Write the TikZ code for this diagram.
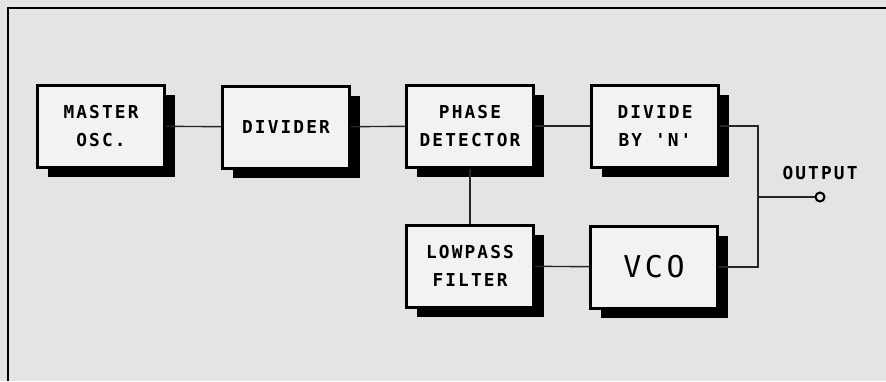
\documentclass[tikz,border=0pt]{standalone}
\usepackage{fontspec}
\setmonofont{DejaVu Sans Mono}[LetterSpace=12]
\usetikzlibrary{shadows}
\definecolor{paper}{HTML}{E4E4E4}
\definecolor{boxfill}{HTML}{F2F2F2}

\begin{document}
\begin{tikzpicture}[
    x=1pt, y=-1pt,
    wire/.style={line width=1.4pt, black!85},
    blk/.style={draw=black, fill=boxfill, line width=3pt, align=center,
                minimum width=127pt, minimum height=82pt, inner sep=0pt,
                drop shadow={shadow xshift=10pt, shadow yshift=-10pt,
                             fill=black, opacity=1},
                font=\ttfamily\bfseries\fontsize{17.8}{28}\selectfont},
    bigblk/.style={blk, font=\ttfamily\fontsize{30}{36}\selectfont},
    lab/.style={font=\ttfamily\bfseries\fontsize{17.8}{28}\selectfont},
]
\useasboundingbox[fill=paper] (0,0) rectangle (886,381);
\draw[line width=2pt] (8,381) -- (8,8) -- (886,8);

\node[blk] (osc) at (101,126) {MASTER\\ OSC.};
\node[blk] (div) at (286,127) {DIVIDER};
\node[blk] (pd)  at (470,126) {PHASE\\ DETECTOR};
\node[blk] (divn) at (655,126) {DIVIDE\\ BY 'N'};
\node[blk] (lpf) at (470,266) {LOWPASS\\ FILTER};
\node[bigblk] (vco) at (654,267) {VCO};

\coordinate (tap) at (758,197);
\node[circle, draw, line width=2pt, fill=paper, inner sep=0pt,
      minimum size=9pt] (out) at (820,197) {};
\node[lab] (outlab) at (820,173) {OUTPUT};

\draw[wire] (osc) -- (div);
\draw[wire] (div) -- (pd);
\draw[wire] (pd) -- (divn);
\draw[wire] (pd) -- (lpf);
\draw[wire] (lpf) -- (vco);
\draw[wire] (divn.east) -| (tap) |- (vco.east);
\draw[wire] (tap) -- (out);

\end{tikzpicture}
\end{document}
